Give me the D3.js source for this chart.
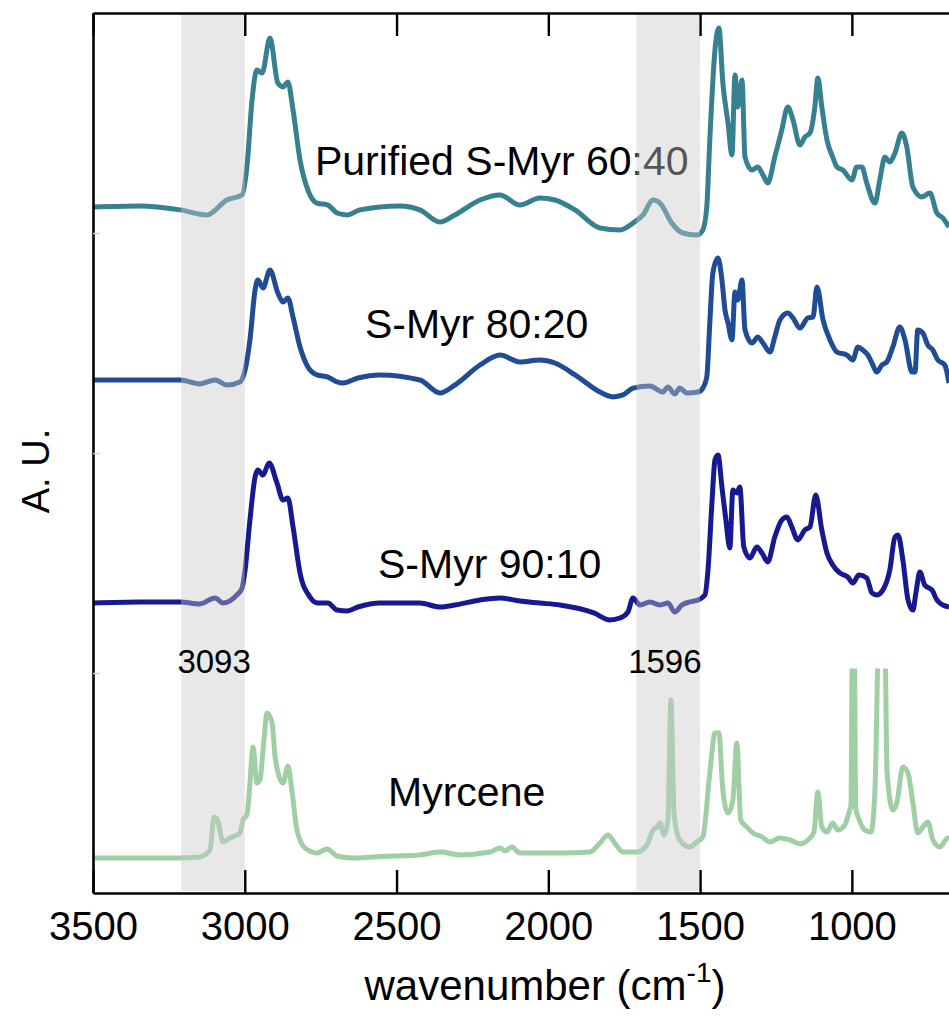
<!DOCTYPE html>
<html><head><meta charset="utf-8">
<script src="https://cdn.jsdelivr.net/npm/d3@7"></script>
<style>body{margin:0;background:#fff;} svg{display:block;font-family:"Liberation Sans",Arial,Helvetica,sans-serif;}</style>
</head><body><svg id="chart" width="949" height="1017"></svg>
<script>
// ---------- data ----------
const xTicks = [3500, 3000, 2500, 2000, 1500, 1000];
const yTicks = [1, 2, 3];
const bands = [[3210, 3000], [1710, 1500]];
const bandLabels = ["3093", "1596"];
const seriesNames = ["Purified S-Myr 60:40", "S-Myr 80:20", "S-Myr 90:10", "Myrcene"];
const seriesColors = ["#37808f", "#1f4c94", "#16198f", "#a0cfa5"];

const s6040 = [[3500,3.118],[3345,3.123],[3213,3.105],[3125,3.082],[3059,3.150],[3009,3.173],[2993,3.300],[2976,3.605],[2960,3.741],[2943,3.727],[2917,3.886],[2891,3.682],[2874,3.664],[2858,3.686],[2841,3.559],[2818,3.332],[2792,3.195],[2762,3.136],[2726,3.127],[2696,3.091],[2663,3.082],[2621,3.105],[2489,3.123],[2423,3.105],[2357,3.050],[2308,3.082],[2225,3.150],[2159,3.173],[2094,3.127],[2028,3.159],[1978,3.150],[1912,3.105],[1830,3.023],[1764,3.014],[1721,3.045],[1688,3.082],[1655,3.150],[1632,3.136],[1593,3.045],[1557,3.000],[1511,2.991],[1491,3.014],[1478,3.118],[1468,3.423],[1451,3.832],[1438,3.932],[1425,3.682],[1408,3.500],[1395,3.355],[1385,3.718],[1376,3.573],[1362,3.695],[1352,3.345],[1329,3.286],[1310,3.300],[1293,3.264],[1277,3.227],[1254,3.345],[1231,3.468],[1211,3.573],[1194,3.514],[1171,3.400],[1155,3.436],[1138,3.455],[1122,3.573],[1112,3.705],[1099,3.573],[1082,3.423],[1063,3.345],[1049,3.300],[1030,3.286],[1000,3.241],[984,3.300],[967,3.300],[951,3.227],[924,3.136],[908,3.241],[891,3.345],[875,3.323],[858,3.364],[835,3.455],[819,3.391],[799,3.209],[769,3.164],[743,3.182],[720,3.091],[700,3.068],[680,3.027]];

const s8020 = [[3500,2.332],[3345,2.332],[3213,2.332],[3148,2.314],[3098,2.332],[3059,2.309],[3016,2.323],[2999,2.377],[2983,2.514],[2966,2.741],[2957,2.786],[2940,2.750],[2917,2.832],[2891,2.727],[2874,2.686],[2858,2.705],[2841,2.618],[2818,2.482],[2792,2.391],[2762,2.355],[2726,2.345],[2696,2.323],[2677,2.318],[2627,2.341],[2555,2.355],[2423,2.332],[2357,2.273],[2308,2.309],[2225,2.400],[2159,2.445],[2094,2.414],[2028,2.423],[1978,2.409],[1912,2.355],[1830,2.277],[1787,2.255],[1754,2.264],[1721,2.295],[1665,2.305],[1623,2.277],[1606,2.300],[1583,2.268],[1567,2.295],[1544,2.273],[1507,2.277],[1491,2.295],[1478,2.345],[1468,2.591],[1458,2.818],[1441,2.886],[1428,2.786],[1418,2.650],[1408,2.591],[1395,2.514],[1385,2.732],[1376,2.695],[1362,2.786],[1352,2.559],[1329,2.500],[1310,2.527],[1293,2.500],[1270,2.459],[1254,2.527],[1237,2.605],[1211,2.636],[1194,2.614],[1171,2.568],[1145,2.614],[1128,2.618],[1115,2.755],[1095,2.605],[1072,2.514],[1049,2.459],[1016,2.445],[997,2.423],[980,2.482],[964,2.468],[947,2.445],[931,2.400],[918,2.368],[901,2.400],[885,2.414],[865,2.482],[842,2.573],[825,2.514],[802,2.368],[792,2.368],[783,2.559],[766,2.545],[750,2.491],[733,2.468],[717,2.423],[694,2.400],[680,2.318]];

const s9010 = [[3500,1.318],[3345,1.323],[3213,1.323],[3148,1.314],[3098,1.341],[3072,1.318],[3026,1.355],[3009,1.386],[2999,1.468],[2983,1.695],[2966,1.891],[2957,1.923],[2940,1.900],[2920,1.955],[2894,1.864],[2874,1.786],[2858,1.795],[2841,1.664],[2818,1.455],[2785,1.345],[2759,1.318],[2726,1.318],[2696,1.286],[2663,1.282],[2627,1.300],[2555,1.318],[2423,1.318],[2357,1.300],[2308,1.309],[2225,1.332],[2159,1.341],[2094,1.327],[2028,1.318],[1962,1.309],[1850,1.273],[1797,1.241],[1764,1.250],[1738,1.277],[1721,1.341],[1698,1.309],[1665,1.323],[1632,1.309],[1606,1.318],[1583,1.277],[1560,1.309],[1534,1.323],[1507,1.332],[1484,1.355],[1474,1.468],[1461,1.773],[1451,1.968],[1441,1.991],[1428,1.845],[1415,1.695],[1402,1.568],[1392,1.832],[1379,1.818],[1369,1.845],[1356,1.573],[1336,1.523],[1313,1.573],[1296,1.545],[1277,1.505],[1254,1.618],[1231,1.695],[1214,1.709],[1198,1.664],[1178,1.605],[1155,1.650],[1138,1.664],[1119,1.809],[1099,1.650],[1082,1.545],[1063,1.491],[1040,1.455],[1013,1.436],[997,1.409],[977,1.445],[951,1.432],[934,1.364],[918,1.355],[898,1.377],[875,1.468],[858,1.618],[848,1.627],[832,1.514],[815,1.332],[799,1.286],[789,1.364],[776,1.459],[760,1.400],[736,1.377],[720,1.332],[700,1.309],[680,1.300]];

const sMyrcene = [[3500,0.159],[3213,0.159],[3148,0.164],[3115,0.195],[3101,0.345],[3088,0.323],[3072,0.232],[3049,0.250],[3016,0.273],[3006,0.332],[2993,0.355],[2983,0.500],[2973,0.664],[2960,0.500],[2950,0.514],[2937,0.695],[2927,0.818],[2910,0.773],[2900,0.618],[2874,0.500],[2858,0.577],[2845,0.468],[2828,0.286],[2802,0.205],[2762,0.182],[2729,0.200],[2696,0.168],[2644,0.159],[2578,0.164],[2512,0.168],[2423,0.173],[2357,0.186],[2291,0.173],[2192,0.186],[2159,0.205],[2143,0.191],[2120,0.209],[2094,0.182],[1962,0.182],[1863,0.186],[1830,0.227],[1804,0.264],[1781,0.227],[1754,0.186],[1708,0.186],[1675,0.218],[1655,0.286],[1642,0.300],[1632,0.318],[1619,0.264],[1606,0.332],[1596,0.877],[1586,0.364],[1567,0.241],[1534,0.209],[1511,0.232],[1491,0.255],[1468,0.545],[1451,0.727],[1438,0.727],[1425,0.468],[1408,0.364],[1392,0.423],[1379,0.682],[1366,0.332],[1346,0.300],[1326,0.273],[1296,0.255],[1270,0.232],[1237,0.250],[1204,0.241],[1171,0.223],[1145,0.241],[1125,0.277],[1112,0.459],[1099,0.300],[1082,0.277],[1063,0.318],[1046,0.286],[1023,0.309],[1010,0.364],[1003,0.400],[995,2.000],[988,0.390],[975,0.330],[957,0.286],[937,0.277],[924,0.468],[905,1.600],[900,1.200],[895,1.600],[884,0.550],[865,0.377],[852,0.409],[832,0.573],[815,0.545],[799,0.409],[783,0.273],[766,0.300],[750,0.323],[733,0.241],[710,0.209],[684,0.250],[680,0.250]];

const seriesData = [s6040, s8020, s9010, sMyrcene];

// ---------- layout ----------
const W = 949, H = 1017;
const mLeft = 93, mTop = 13, mBottom = 893, mRight = 949;
const x = d3.scaleLinear().domain([3500, 680]).range([mLeft, mRight]);
const y = d3.scaleLinear().domain([0, 4]).range([mBottom, mTop]);
const myrceneCeil = 1.02;

const labelPos = [
  {wn: 2769, v: 3.264},
  {wn: 2604, v: 2.523},
  {wn: 2561, v: 1.432},
  {wn: 2528, v: 0.395}
];
const bandLabelPos = [{wn: 3101, v: 1.0}, {wn: 1616, v: 1.0}];

const svg = d3.select("#chart");
const defs = svg.append("defs");
defs.append("clipPath").attr("id", "plotclip").append("rect")
  .attr("x", mLeft).attr("y", mTop).attr("width", mRight - mLeft).attr("height", mBottom - mTop);
defs.append("clipPath").attr("id", "myrclip").append("rect")
  .attr("x", mLeft).attr("y", y(myrceneCeil)).attr("width", mRight - mLeft).attr("height", mBottom - y(myrceneCeil));

const line = d3.line().x(d => x(d[0])).y(d => y(d[1])).curve(d3.curveMonotoneX);

const gLines = svg.append("g").attr("clip-path", "url(#plotclip)");
seriesData.forEach((s, i) => {
  gLines.append("path")
    .attr("d", line(s))
    .attr("fill", "none")
    .attr("stroke", seriesColors[i])
    .attr("stroke-width", 5)
    .attr("stroke-linejoin", "round")
    .attr("clip-path", i === 3 ? "url(#myrclip)" : null);
});

// series labels
seriesNames.forEach((n, i) => {
  svg.append("text").attr("x", x(labelPos[i].wn)).attr("y", y(labelPos[i].v))
    .attr("font-size", 41).attr("fill", "#000").text(n);
});

// shaded bands (overlay)
svg.append("g").selectAll("rect").data(bands).join("rect")
  .attr("x", d => x(d[0])).attr("width", d => x(d[1]) - x(d[0]))
  .attr("y", mTop).attr("height", mBottom - mTop - 2)
  .attr("fill", "rgb(200,200,200)").attr("fill-opacity", 0.42);

// band labels
bandLabels.forEach((t, i) => {
  svg.append("text").attr("x", x(bandLabelPos[i].wn)).attr("y", y(bandLabelPos[i].v))
    .attr("text-anchor", "middle").attr("font-size", 33).text(t);
});

// axes
const axB = svg.append("g").attr("transform", `translate(0,${mBottom})`)
  .call(d3.axisBottom(x).tickValues(xTicks).tickSizeInner(-23).tickSizeOuter(0).tickPadding(19).tickFormat(d3.format("d")));
const axT = svg.append("g").attr("transform", `translate(0,${mTop})`)
  .call(d3.axisTop(x).tickValues(xTicks).tickSizeInner(-23).tickSizeOuter(0).tickFormat(""));
const axL = svg.append("g").attr("transform", `translate(${mLeft},0)`)
  .call(d3.axisLeft(y).tickValues(yTicks).tickSizeInner(-7).tickSizeOuter(0).tickFormat(""));
[axB, axT, axL].forEach(g => {
  g.select(".domain").attr("stroke", "#000").attr("stroke-width", 2.6);
  g.selectAll(".tick line").attr("stroke", "#000").attr("stroke-width", 2.4);
});
axL.selectAll(".tick line").attr("stroke", "#d0d0d0").attr("stroke-width", 1.5);
axB.selectAll(".tick text").attr("font-size", 40).attr("fill", "#000")
  .attr("font-family", '"Liberation Sans",Arial,sans-serif');

// axis titles
const xt = svg.append("text").attr("x", 545).attr("y", 1000).attr("text-anchor", "middle").attr("font-size", 42);
xt.append("tspan").text("wavenumber (cm");
xt.append("tspan").attr("font-size", 28).attr("dy", -18).text("-1");
xt.append("tspan").attr("dy", 18).text(")");

svg.append("text").attr("transform", "translate(49,471) rotate(-90)")
  .attr("text-anchor", "middle").attr("font-size", 38).text("A. U.");
</script></body></html>
